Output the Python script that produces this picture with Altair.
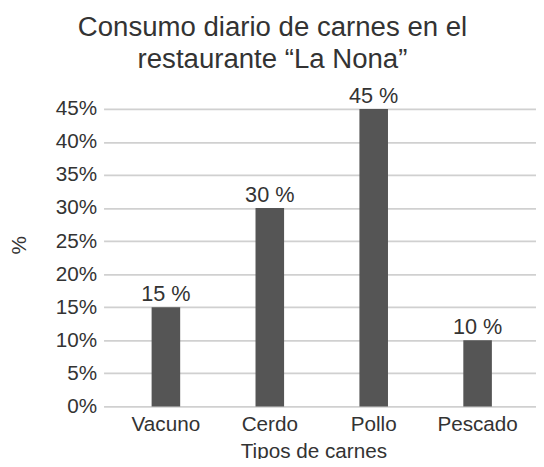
import altair as alt
import pandas as pd

categories = ["Vacuno", "Cerdo", "Pollo", "Pescado"]
values = [15, 30, 45, 10]
labels = ["15 %", "30 %", "45 %", "10 %"]

df = pd.DataFrame({"tipo": categories, "valor": values, "etiqueta": labels})

FONT = "Liberation Sans"
TXT = "#333333"

base = alt.Chart(df).encode(
    x=alt.X("tipo:N", sort=categories,
            scale=alt.Scale(paddingInner=0, paddingOuter=0.1, range=[0, 443]),
            axis=alt.Axis(title="Tipos de carnes", labelAngle=0, labelFontSize=21,
                          labelFont=FONT, labelColor=TXT, titleFont=FONT,
                          titleFontSize=21, titleFontWeight="normal", titleColor=TXT,
                          labelPadding=7, titlePadding=7, ticks=False, domain=False,
                          titleX=213)),
    y=alt.Y("valor:Q", scale=alt.Scale(domain=[0, 45], nice=False),
            axis=alt.Axis(title="%", values=list(range(0, 50, 5)),
                          labelExpr="datum.value + '%'", labelFontSize=21,
                          labelFont=FONT, labelColor=TXT, titleFont=FONT,
                          titleFontSize=21, titleFontWeight="normal", titleColor=TXT,
                          ticks=False, domain=False, labelPadding=7,
                          gridColor="#d0d0d0", gridWidth=2,
                          titleX=-75, titleY=138)),
)

bars = base.mark_bar(color="#555555", size=29)
text = base.mark_text(baseline="alphabetic", dy=-6, fontSize=22, font=FONT,
                      color=TXT).encode(text="etiqueta:N")

chart = (bars + text).properties(
    width=439, height=302,
    title=alt.TitleParams(["Consumo diario de carnes en el", "restaurante “La Nona”"],
                          fontSize=28, font=FONT, fontWeight="normal", color=TXT,
                          lineHeight=33, dx=-48, offset=11, anchor="middle"),
    padding={"left": 97, "top": 99, "right": 0, "bottom": 50},
    autosize=alt.AutoSizeParams(type="none"),
).configure_view(stroke=None)

chart.save("out.html", embed_options={"renderer": "svg", "actions": False})
